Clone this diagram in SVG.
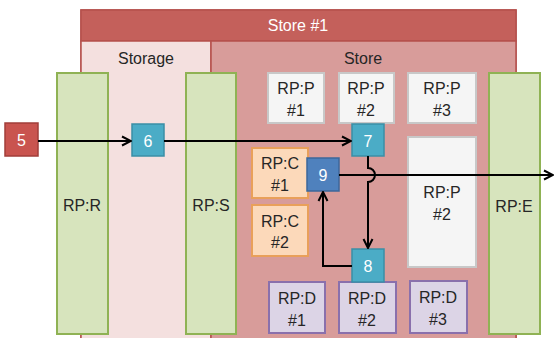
<svg xmlns="http://www.w3.org/2000/svg" width="555" height="338" viewBox="0 0 555 338">
<defs>
<style>
text{font-family:"Liberation Sans",Arial,sans-serif;font-size:16px;text-anchor:middle;dominant-baseline:central;fill:#262626}
.w{fill:#fff}
.rp{fill:#D7E4BD;stroke:#8FB254;stroke-width:2}
.pp{fill:#F5F5F5;stroke:#C8C8C8;stroke-width:2}
.pc{fill:#FCD9BA;stroke:#E9A05A;stroke-width:2}
.pd{fill:#DCD4E6;stroke:#8A70AC;stroke-width:2}
.teal{fill:#4BACC6;stroke:#3A8FA6;stroke-width:1.5}
.blue{fill:#4F81BD;stroke:#3C679B;stroke-width:1.5}
.red{fill:#C9544F;stroke:#A13E3A;stroke-width:1.5}
.c{fill:none;stroke:#000;stroke-width:2}
</style>
<marker id="ah" viewBox="0 0 10 10" refX="9" refY="5" markerWidth="5" markerHeight="5" orient="auto" markerUnits="userSpaceOnUse">
<path d="M1,1 L9,5 L1,9" fill="none" stroke="#000" stroke-width="2"/>
</marker>
<marker id="a" viewBox="0 0 12 12" refX="11" refY="6" markerWidth="12" markerHeight="12" orient="auto" markerUnits="userSpaceOnUse">
<path d="M2,1.5 L11,6 L2,10.5" fill="none" stroke="#000" stroke-width="2"/>
</marker>
</defs>
<g id="store1">
<rect x="81" y="10" width="435" height="340" fill="#D89C9A" stroke="#B5504C" stroke-width="1.5"/>
<rect x="81" y="10" width="435" height="31" fill="#C4605B" stroke="#B5504C" stroke-width="1.5"/>
<text class="w" x="298" y="25">Store #1</text>
</g>
<g id="storage">
<rect x="81" y="41" width="130" height="310" fill="#F4E0DF" stroke="#B5504C" stroke-width="1.5"/>
<text x="146" y="58">Storage</text>
</g>
<g id="store">
<rect x="211" y="41" width="305" height="310" fill="#D89C9A" stroke="#B5504C" stroke-width="1.5"/>
<text x="363" y="58">Store</text>
</g>
<g id="rpr"><rect class="rp" x="57" y="73" width="51" height="261"/><text x="82" y="205">RP:R</text></g>
<g id="rps"><rect class="rp" x="186" y="73" width="50" height="261"/><text x="211" y="205">RP:S</text></g>
<g id="rpe"><rect class="rp" x="489" y="73" width="51" height="261"/><text x="514" y="206">RP:E</text></g>
<g id="rpp1"><rect class="pp" x="268" y="73" width="56" height="50"/><text x="296" y="88">RP:P</text><text x="296" y="110">#1</text></g>
<g id="rpp2"><rect class="pp" x="339" y="73" width="55" height="50"/><text x="366" y="88">RP:P</text><text x="366" y="110">#2</text></g>
<g id="rpp3"><rect class="pp" x="408" y="73" width="68" height="50"/><text x="442" y="88">RP:P</text><text x="442" y="110">#3</text></g>
<g id="rpp2b"><rect class="pp" x="408" y="137" width="68" height="130"/><text x="442" y="192">RP:P</text><text x="442" y="214">#2</text></g>
<g id="rpc1"><rect class="pc" x="252" y="148" width="56" height="50"/><text x="280" y="163">RP:C</text><text x="280" y="185">#1</text></g>
<g id="rpc2"><rect class="pc" x="252" y="205" width="56" height="51"/><text x="280" y="221">RP:C</text><text x="280" y="242">#2</text></g>
<g id="rpd1"><rect class="pd" x="269" y="282" width="56" height="51"/><text x="297" y="298">RP:D</text><text x="297" y="320">#1</text></g>
<g id="rpd2"><rect class="pd" x="339" y="282" width="57" height="51"/><text x="367" y="298">RP:D</text><text x="367" y="320">#2</text></g>
<g id="rpd3"><rect class="pd" x="410" y="281" width="57" height="52"/><text x="438" y="297">RP:D</text><text x="438" y="319">#3</text></g>
<g id="n5"><rect class="red" x="5" y="123" width="33" height="33"/><text class="w" x="21.5" y="140">5</text></g>
<g id="n6"><rect class="teal" x="132" y="124" width="32" height="32"/><text class="w" x="148" y="141">6</text></g>
<g id="n7"><rect class="teal" x="352" y="124" width="32" height="32"/><text class="w" x="368" y="141">7</text></g>
<g id="n8"><rect class="teal" x="352" y="249" width="32" height="33"/><text class="w" x="368" y="266">8</text></g>
<g id="n9"><rect class="blue" x="307" y="158" width="32" height="33"/><text class="w" x="323" y="175">9</text></g>
<g id="connectors">
<path class="c" d="M38,141 H131" marker-end="url(#a)"/>
<path class="c" d="M164,141 H351" marker-end="url(#a)"/>
<path class="c" d="M368,156 V168 A7,7 0 0 1 368,182 V248" marker-end="url(#a)"/>
<path class="c" d="M352,266 H323 V192" marker-end="url(#a)"/>
<path class="c" d="M339,175 H553" marker-end="url(#a)"/>
</g>
</svg>
